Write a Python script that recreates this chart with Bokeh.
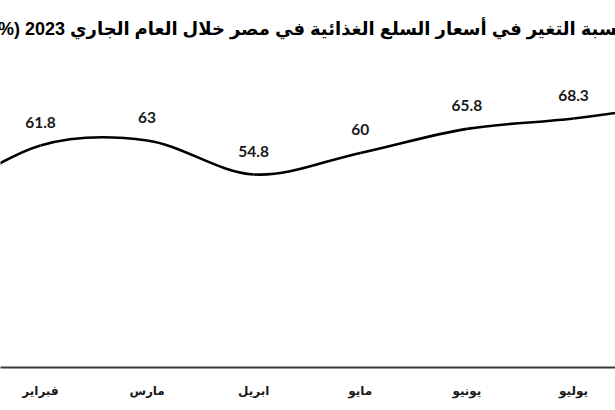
from bokeh.plotting import figure
from bokeh.models import Range1d, FixedTicker, ColumnDataSource
from bokeh.core.properties import value
from bokeh.embed import file_html
from bokeh.resources import INLINE

months = ["يناير", "فبراير", "مارس", "ابريل", "مايو", "يونيو", "يوليو", "أغسطس"]
values = [48.0, 61.8, 63.0, 54.8, 60.0, 65.8, 68.3, 71.9]
value_labels = ["48", "61.8", "63", "54.8", "60", "65.8", "68.3", "71.9"]
title_text = "نسبة التغير في أسعار السلع الغذائية في مصر خلال العام الجاري 2023 (%)"

xs = list(range(len(months)))
src = ColumnDataSource(dict(x=xs, y=values, lbl=value_labels))


def smooth_segments(x, y):
    # Bezier segments through the data points (smoothed line, like the original)
    n = len(x)
    seg = dict(x0=[], y0=[], x1=[], y1=[], cx0=[], cy0=[], cx1=[], cy1=[])
    for i in range(n - 1):
        xp, yp = (x[i - 1], y[i - 1]) if i > 0 else (x[i], y[i])
        xn, yn = (x[i + 2], y[i + 2]) if i + 2 < n else (x[i + 1], y[i + 1])
        seg["x0"].append(x[i]); seg["y0"].append(y[i])
        seg["x1"].append(x[i + 1]); seg["y1"].append(y[i + 1])
        seg["cx0"].append(x[i] + (x[i + 1] - xp) / 6.0)
        seg["cy0"].append(y[i] + (y[i + 1] - yp) / 6.0)
        seg["cx1"].append(x[i + 1] - (xn - x[i]) / 6.0)
        seg["cy1"].append(y[i + 1] - (yn - y[i]) / 6.0)
    return seg


p = figure(width=615, height=410, output_backend="svg", toolbar_location=None,
           x_range=Range1d(0.625, 6.394), y_range=Range1d(8.29, 84.68),
           y_axis_location=None, min_border_left=0, min_border_right=0,
           min_border_top=50, min_border_bottom=43)

p.title.text = title_text + "\u200F"
p.title.align = "center"
p.title.text_font = "Liberation Sans, DejaVu Sans"
p.title.text_font_size = "18px"
p.title.text_font_style = "bold"
p.title.text_color = "#000000"
p.title.standoff = 23

p.xgrid.visible = False
p.ygrid.visible = False
p.outline_line_color = None
p.background_fill_color = "white"
p.border_fill_color = "white"

ax = p.xaxis[0]
ax.ticker = FixedTicker(ticks=xs)
ax.major_label_overrides = {i: m for i, m in zip(xs, months)}
ax.major_tick_line_color = None
ax.major_tick_out = 0
ax.major_tick_in = 0
ax.minor_tick_line_color = None
ax.minor_tick_out = 0
ax.axis_line_color = "#3a3a3a"
ax.axis_line_width = 2
ax.major_label_text_font = "DejaVu Sans"
ax.major_label_text_font_style = "bold"
ax.major_label_text_font_size = "12px"
ax.major_label_text_color = "#1a1a1a"
ax.major_label_standoff = 16

seg_src = ColumnDataSource(smooth_segments(xs, values))
p.bezier(x0="x0", y0="y0", x1="x1", y1="y1", cx0="cx0", cy0="cy0",
         cx1="cx1", cy1="cy1", source=seg_src, line_color="black", line_width=2.6)

p.text("x", "y", text="lbl", source=src, y_offset=-23,
       text_align="center", text_baseline="middle",
       text_font=value("Lato"), text_font_style="bold",
       text_font_size="15.5px", text_color="#1a1a1a")

open("out.html", "w").write(file_html(p, INLINE))
